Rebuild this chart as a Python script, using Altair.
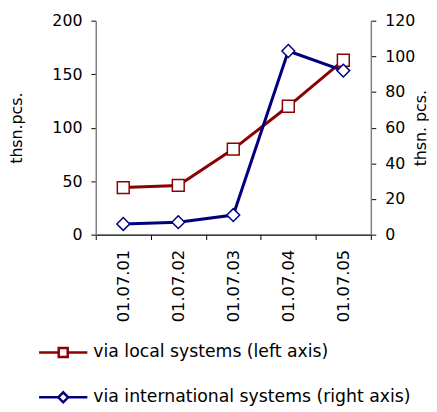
import altair as alt
import pandas as pd

dates = ["01.07.01", "01.07.02", "01.07.03", "01.07.04", "01.07.05"]
local = [44, 46, 80, 120, 163]
intl = [6, 7, 11, 103, 92]
series_names = ["via local systems (left axis)", "via international systems (right axis)"]
colors = ["#8B0000", "#00007F"]
left_ticks = [0, 50, 100, 150, 200]
right_ticks = [0, 20, 40, 60, 80, 100, 120]

long = pd.DataFrame({
    "date": dates * 2,
    "series": [series_names[0]] * len(dates) + [series_names[1]] * len(dates),
    "value": local + intl,
})

FONT = "DejaVu Sans"
W, H = 279, 217

xscale = alt.Scale(type="band", paddingInner=0, paddingOuter=0)
x_axis = alt.X("date:N", sort=dates, bandPosition=0.5, scale=xscale,
               axis=alt.Axis(title=None, labelAngle=270, tickBand="extent",
                             labelFontSize=16.5, labelPadding=10,
                             domainColor="#000000"))

base = alt.Chart(long)
loc = base.transform_filter(alt.datum.series == series_names[0])
itl = base.transform_filter(alt.datum.series == series_names[1])

y_left = alt.Y("value:Q", scale=alt.Scale(domain=[0, 200]),
               axis=alt.Axis(values=left_ticks, title="thsn.pcs.", titleAngle=270,
                             titleBaseline="bottom", titlePadding=28,
                             grid=False, orient="left"))

y_right = alt.Y("value:Q", scale=alt.Scale(domain=[0, 120]),
                axis=alt.Axis(values=right_ticks, title="thsn. pcs.", titleAngle=270,
                              titleBaseline="top", titlePadding=-2,
                              grid=False, orient="right"))

sq_path = "M-2.04,0H-0.38M0.38,0H2.04M-0.38,-0.38H0.38V0.38H-0.38Z"
dm_path = "M-2.04,0H-0.42M0.42,0H2.04M-0.42,0L0,-0.42L0.42,0L0,0.42Z"

leg = alt.Legend(title=None, orient="none", legendX=-46.5, legendY=323,
                 direction="vertical", symbolSize=576, symbolStrokeWidth=2.5,
                 symbolFillColor="white", symbolOpacity=1, labelFont=FONT,
                 labelFontSize=17.5, labelOffset=17, rowPadding=21.5, padding=0,
                 labelColor="#000000", labelLimit=400)

local_line = loc.mark_line(color=colors[0], strokeWidth=3).encode(x=x_axis, y=y_left)
local_pts = loc.mark_point(shape="square", size=144, filled=True, fill="white",
                           stroke=colors[0], strokeWidth=1.5, opacity=1).encode(
    x=x_axis, y=y_left)
legend_layer = base.mark_point(filled=True, opacity=0).encode(
    x=x_axis, y=y_left,
    stroke=alt.Stroke("series:N", scale=alt.Scale(domain=series_names, range=colors), legend=leg),
    shape=alt.Shape("series:N", scale=alt.Scale(domain=series_names, range=[sq_path, dm_path]), legend=leg),
    fill=alt.value("white"),
)

intl_line = itl.mark_line(color=colors[1], strokeWidth=3).encode(x=x_axis, y=y_right)
intl_pts = itl.mark_point(shape="diamond", size=169, filled=True, fill="white",
                          stroke=colors[1], strokeWidth=1.5, opacity=1).encode(
    x=x_axis, y=y_right)

left = alt.layer(local_line, local_pts, legend_layer)
right = alt.layer(intl_line, intl_pts)

chart = alt.layer(left, right).resolve_scale(y="independent").properties(
    width=W, height=H, padding={"left": 0, "top": 2, "right": 0, "bottom": 0},
    background="white",
).configure_view(stroke=None).configure_axis(
    labelFont=FONT, labelFontSize=16, labelColor="#000000", labelPadding=9,
    titleFont=FONT, titleFontSize=16, titleFontWeight="normal", titleColor="#000000",
    tickSize=5, tickColor="#000000", domainColor="#808080", domainWidth=1.5,
)

chart.save("out.html", embed_options={"renderer": "svg", "actions": False})
